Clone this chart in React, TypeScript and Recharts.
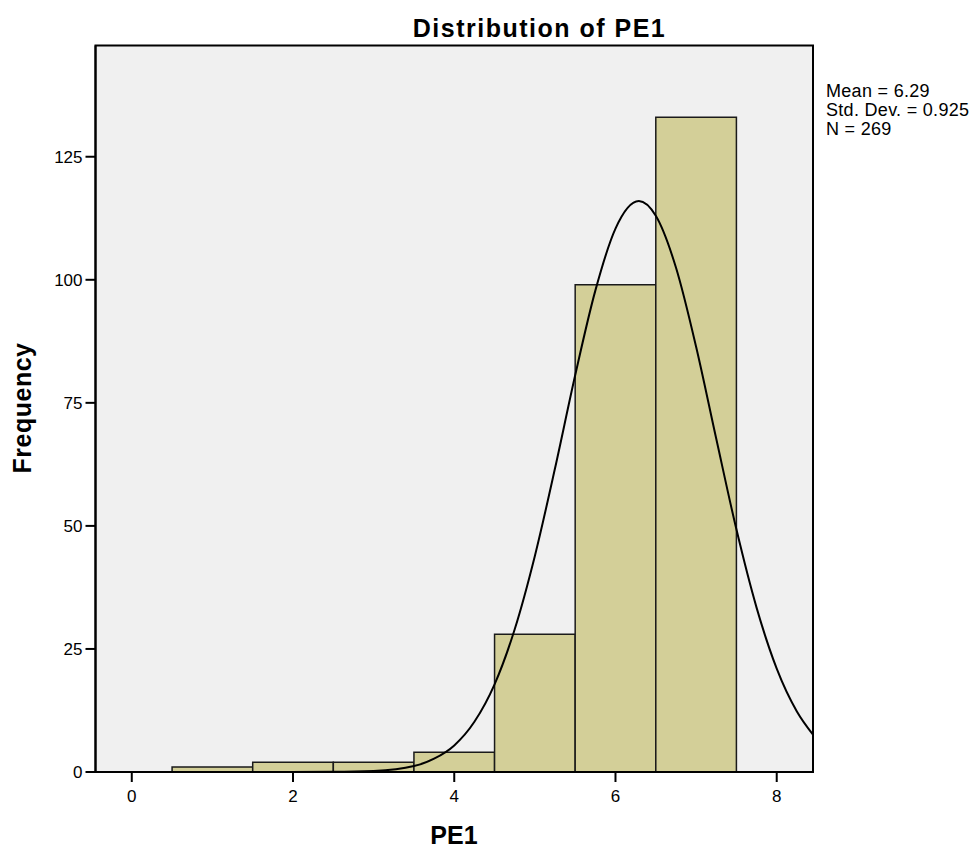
import { ComposedChart, Line, XAxis, YAxis, ReferenceArea, CartesianGrid } from 'recharts';

// histogram bins (PE1)
const binLower = [0.5, 1.5, 2.5, 3.5, 4.5, 5.5, 6.5];
const binUpper = [1.5, 2.5, 3.5, 4.5, 5.5, 6.5, 7.5];
const frequency = [1, 2, 2, 4, 28, 99, 133];

// normal curve
const curveX = [-0.45, 1.5, 2.5, 3.0, 3.5, 3.75, 4.0, 4.25, 4.5, 4.75, 5.0, 5.25, 5.5, 5.75, 6.0, 6.29, 6.5, 6.75, 7.0, 7.25, 7.5, 7.75, 8.0, 8.25, 8.45];
const curveY = [0, 0, 0.03, 0.2, 1.2, 2.7, 5.4, 10.2, 17.8, 29, 43.9, 61.7, 80.6, 97.8, 110.4, 116, 113, 102.5, 86.4, 67.7, 49.3, 33.4, 21, 12.3, 7.6];

const xTicks = [0, 2, 4, 6, 8];
const yTicks = [0, 25, 50, 75, 100, 125];
const xDomain = [-0.45, 8.45];
const yDomain = [0, 147.6];

const stats = ['Mean = 6.29', 'Std. Dev. = 0.925', 'N = 269'];

const font = '"Liberation Sans", Arial, sans-serif';

export default function App() {
  const data = curveX.map((x, i) => ({ x, y: curveY[i] }));
  const tickStyle = { fill: '#000', fontSize: 17, fontFamily: font };

  return (
    <div style={{ position: 'absolute', left: 0, top: 0, width: 976, height: 850, background: '#fff', fontFamily: font }}>
      <ComposedChart
        width={976}
        height={850}
        data={data}
        margin={{ top: 45.5, right: 163, bottom: 38, left: 35.5 }}
      >
        <CartesianGrid horizontal={false} vertical={false} fill="#f0f0f0" />
        <ReferenceArea
          x1={xDomain[0]}
          x2={xDomain[1]}
          y1={yDomain[0]}
          y2={yDomain[1]}
          fill="#f0f0f0"
          fillOpacity={1}
          stroke="#000"
          strokeWidth={2}
        />
        {frequency.map((f, i) => (
          <ReferenceArea
            key={i}
            x1={binLower[i]}
            x2={binUpper[i]}
            y1={0}
            y2={f}
            fill="#d3cf98"
            fillOpacity={1}
            stroke="#1a1a1a"
            strokeWidth={1.5}
          />
        ))}
        <XAxis
          dataKey="x"
          type="number"
          domain={xDomain}
          ticks={xTicks}
          allowDataOverflow
          height={40}
          tickSize={10}
          tickMargin={8}
          tick={tickStyle}
          axisLine={{ stroke: '#000', strokeWidth: 2 }}
          tickLine={{ stroke: '#000', strokeWidth: 2 }}
        />
        <YAxis
          type="number"
          domain={yDomain}
          ticks={yTicks}
          allowDataOverflow
          width={60}
          tickSize={10}
          tickMargin={3}
          tick={tickStyle}
          axisLine={{ stroke: '#000', strokeWidth: 2 }}
          tickLine={{ stroke: '#000', strokeWidth: 2 }}
        />
        <Line
          dataKey="y"
          type="monotone"
          stroke="#000"
          strokeWidth={2}
          dot={false}
          activeDot={false}
          isAnimationActive={false}
        />
      </ComposedChart>

      <div style={{ position: 'absolute', top: 13, left: 0, width: 1079, textAlign: 'center', fontSize: 25, fontWeight: 'bold', letterSpacing: 1.5, lineHeight: '30px' }}>
        Distribution of PE1
      </div>
      <div style={{ position: 'absolute', left: 454, top: 820, transform: 'translateX(-50%)', fontSize: 25, fontWeight: 'bold', lineHeight: '30px', whiteSpace: 'nowrap' }}>
        PE1
      </div>
      <div style={{ position: 'absolute', left: 22, top: 408, transform: 'translate(-50%, -50%) rotate(-90deg)', fontSize: 25, fontWeight: 'bold', lineHeight: '30px', letterSpacing: 0.5, whiteSpace: 'nowrap' }}>
        Frequency
      </div>
      <div style={{ position: 'absolute', left: 826, top: 82, fontSize: 18, lineHeight: '19px', letterSpacing: 0.3, whiteSpace: 'nowrap' }}>
        {stats.map((s) => (
          <div key={s}>{s}</div>
        ))}
      </div>
    </div>
  );
}
